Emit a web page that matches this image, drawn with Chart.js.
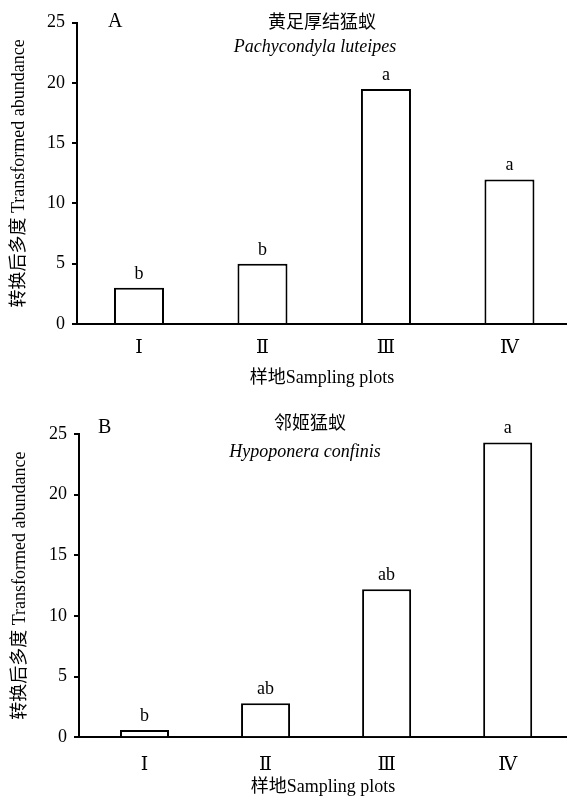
<!DOCTYPE html>
<html>
<head>
<meta charset="utf-8">
<script src="https://cdn.jsdelivr.net/npm/chart.js@4.4.0/dist/chart.umd.min.js"></script>
<style>
html, body { margin: 0; padding: 0; background: #fff; }
#wrapA { position: absolute; left: 0; top: 0; width: 567px; height: 395px; }
#wrapB { position: absolute; left: 0; top: 395px; width: 567px; height: 406px; }
</style>
</head>
<body>
<div id="wrapA"><canvas id="chartA"></canvas></div>
<div id="wrapB"><canvas id="chartB"></canvas></div>
<script>
var plots = ['Ⅰ', 'Ⅱ', 'Ⅲ', 'Ⅳ'];
var yTicks = [0, 5, 10, 15, 20, 25];

var valuesA = [3, 5, 19.5, 12];
var lettersA = ['b', 'b', 'a', 'a'];

var valuesB = [0.6, 2.8, 12.2, 24.3];
var lettersB = ['b', 'ab', 'ab', 'a'];

var serif = '"Liberation Serif", "DejaVu Serif", "Noto Sans CJK SC", serif';

// panel letter, species names and the significance letters over each bar
var panelText = {
    id: 'panelText',
    afterDraw: function (chart, args, o) {
        var ctx = chart.ctx;
        ctx.save();
        ctx.fillStyle = '#000';

        ctx.textAlign = 'left';
        ctx.textBaseline = 'alphabetic';
        ctx.font = '20px ' + serif;
        ctx.fillText(o.panel, o.panelX, o.panelY);

        ctx.textAlign = 'center';
        ctx.textBaseline = 'middle';
        ctx.font = '18px ' + serif;
        ctx.fillText(o.cn, o.cnX, o.cnY);

        ctx.textBaseline = 'alphabetic';
        ctx.font = 'italic 18px ' + serif;
        ctx.fillText(o.latin, o.latinX, o.latinY);

        ctx.font = '18px ' + serif;
        var meta = chart.getDatasetMeta(0);
        meta.data.forEach(function (bar, i) {
            ctx.fillText(o.letters[i], bar.x, bar.y - 9);
        });
        ctx.restore();
    }
};

function makeChart(id, values, letters, c) {
    var ctx = document.getElementById(id).getContext('2d');
    return new Chart(ctx, {
        type: 'bar',
        data: {
            datasets: [{
                data: values.map(function (v, i) { return { x: i + 1, y: v }; }),
                backgroundColor: '#fff',
                borderColor: '#000',
                borderWidth: 2,
                barPercentage: 0.5,
                categoryPercentage: 0.81
            }]
        },
        options: {
            responsive: true,
            maintainAspectRatio: false,
            animation: false,
            layout: { padding: { top: c.top, left: 0, right: 0, bottom: 0 } },
            plugins: {
                legend: { display: false },
                tooltip: { enabled: false },
                panelText: c.text
            },
            scales: {
                x: {
                    type: 'linear',
                    offset: false,
                    bounds: 'data',
                    min: c.xmin,
                    max: c.xmax,
                    afterBuildTicks: function (s) {
                        s.ticks = plots.map(function (p, i) { return { value: i + 1 }; });
                    },
                    afterFit: function (s) { s.height = c.xh; },
                    grid: { display: true, offset: false, drawOnChartArea: false, drawTicks: false },
                    border: { display: true, color: '#000', width: 2 },
                    ticks: {
                        callback: function (v) { return plots[v - 1]; },
                        color: '#000',
                        font: { family: serif, size: 19 },
                        padding: c.xTickPad,
                        maxRotation: 0,
                        autoSkip: false
                    },
                    title: {
                        display: true,
                        text: '样地Sampling plots',
                        color: '#000',
                        font: { family: serif, size: 18 },
                        padding: { top: 0, bottom: c.xTitlePad }
                    }
                },
                y: {
                    min: 0,
                    max: 25,
                    afterBuildTicks: function (s) {
                        s.ticks = yTicks.map(function (v) { return { value: v }; });
                    },
                    afterFit: function (s) { s.width = c.left; },
                    grid: { drawOnChartArea: false, drawTicks: true, tickLength: 5, color: '#000', lineWidth: 2 },
                    border: { display: true, color: '#000', width: 2 },
                    ticks: {
                        color: '#000',
                        font: { family: serif, size: 18 },
                        padding: 7
                    },
                    title: {
                        display: true,
                        text: '转换后多度 Transformed abundance',
                        color: '#000',
                        font: { family: serif, size: 18 },
                        padding: { top: c.yTitlePad, bottom: 0 }
                    }
                }
            }
        },
        plugins: [panelText]
    });
}

makeChart('chartA', valuesA, lettersA, {
    top: 22.7, left: 77, xh: 71, xmin: 0.498, xmax: 4.466,
    xTickPad: 13, xTitlePad: 6, yTitlePad: 8,
    text: {
        panel: 'A', panelX: 108, panelY: 27,
        cn: '黄足厚结猛蚁', cnX: 322, cnY: 23,
        latin: 'Pachycondyla luteipes', latinX: 315, latinY: 52,
        letters: lettersA
    }
});

makeChart('chartB', valuesB, lettersB, {
    top: 39, left: 79, xh: 63.7, xmin: 0.459, xmax: 4.49,
    xTickPad: 16, xTitlePad: 3, yTitlePad: 9,
    text: {
        panel: 'B', panelX: 98, panelY: 38,
        cn: '邻姬猛蚁', cnX: 310, cnY: 29.5,
        latin: 'Hypoponera confinis', latinX: 305, latinY: 62,
        letters: lettersB
    }
});
</script>
</body>
</html>
